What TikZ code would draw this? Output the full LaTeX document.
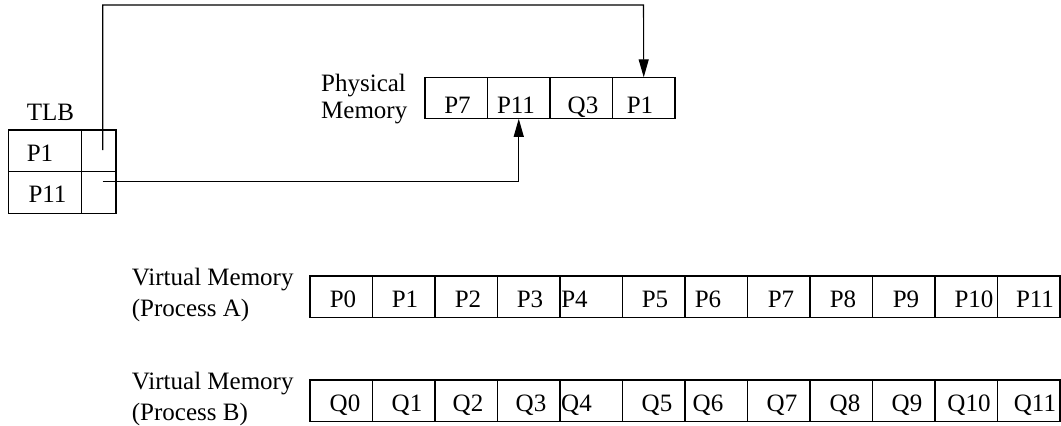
\documentclass[tikz,border=0pt]{standalone}
\usepackage{fontspec}
\setmainfont{Liberation Serif}
\usetikzlibrary{arrows.meta}

\begin{document}
\begin{tikzpicture}[x=1pt,y=-1pt,
  every node/.style={font=\fontsize{25}{29}\selectfont},
  cell/.style={draw,line width=1.1pt,rectangle,inner sep=0pt,outer sep=0pt,
    anchor=north west,minimum height=41.5pt},
  page/.style={cell,minimum width=62.5pt},
  celltext/.style={anchor=base,inner sep=0pt},
  lbl/.style={anchor=base west,inner sep=0pt},
  link/.style={line width=1.1pt,-{Triangle[length=18pt,width=10pt]}}]
\useasboundingbox (0,0) rectangle (1061,426);

% TLB with two entries
\node[lbl] (tlblbl) at (26.7,120) {TLB};
\node[cell,minimum width=73.4pt] (tlb1k) at (8.3,130) {};
\node[cell,minimum width=34.3pt] (tlb1v) at (81.7,130) {};
\node[cell,minimum width=73.4pt] (tlb2k) at (8.3,171.7) {};
\node[cell,minimum width=34.3pt] (tlb2v) at (81.7,171.7) {};
\node[celltext] (tlb1t) at (40,161) {P1};
\node[celltext] (tlb2t) at (47.5,202.5) {P11};

% physical memory frames
\node[lbl] (pmlbl1) at (321,91) {Physical};
\node[lbl] (pmlbl2) at (321,118) {Memory};
\foreach \i/\t/\tx in {1/P7/457.5,2/P11/516,3/Q3/583,4/P1/640}{
  \node[page] (pm\i) at ({425+62.5*(\i-1)},77.3) {};
  \node[celltext] (pmt\i) at (\tx,113.5) {\t};
}

% virtual memory of process A
\node[lbl] (valbl1) at (131.7,285) {Virtual Memory};
\node[lbl] (valbl2) at (131.7,316.7) {(Process A)};
\foreach \i/\tx in {0/343,1/405,2/468,3/530,4/574.5,5/655,6/708,7/781,8/843,9/906,10/974,11/1035}{
  \node[page] (va\i) at ({310+62.5*\i},276) {};
  \node[celltext] (vat\i) at (\tx,307.5) {P\i};
}

% virtual memory of process B
\node[lbl] (vblbl1) at (131.7,389) {Virtual Memory};
\node[lbl] (vblbl2) at (131.7,420.7) {(Process B)};
\foreach \i/\tx in {0/345,1/407,2/468,3/531,4/576.5,5/657,6/708,7/782,8/845,9/907,10/969,11/1035}{
  \node[page] (vb\i) at ({310+62.5*\i},380) {};
  \node[celltext] (vbt\i) at (\tx,411.5) {Q\i};
}

% TLB entries pointing to their frames
\coordinate (tlbA) at (102.7,150);
\coordinate (tlbB) at (102.7,181.7);
\coordinate (bend) at (643.5,5);
\draw[link] (tlbA) |- (bend) -- (pm4.north);
\draw[link] (tlbB) -| (pm2.south);
\end{tikzpicture}
\end{document}
